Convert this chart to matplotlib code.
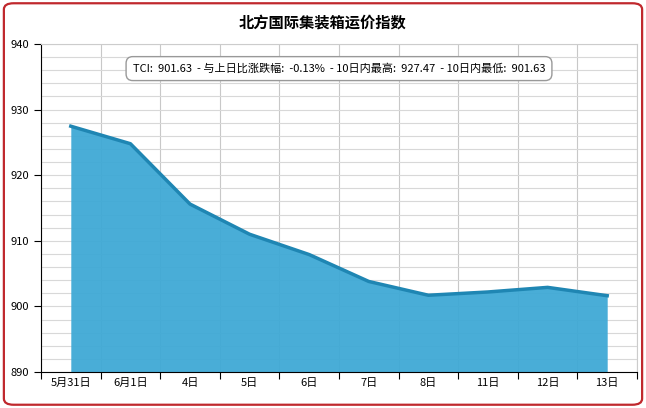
import numpy as np
import matplotlib.pyplot as plt
from matplotlib.patches import FancyBboxPatch

plt.rcParams['font.family'] = ['Noto Sans CJK SC', 'DejaVu Sans']

# 数据
labels = ['5月31日', '6月1日', '4日', '5日', '6日', '7日', '8日', '11日', '12日', '13日']
values = [927.47, 924.8, 915.6, 911.0, 907.9, 903.8, 901.7, 902.2, 902.9, 901.63]
info = 'TCI:  901.63  - 与上日比涨跌幅:  -0.13%  - 10日内最高:  927.47  - 10日内最低:  901.63'

fig = plt.figure(figsize=(6.46, 4.08), dpi=100)
border = FancyBboxPatch((0.006, 0.008), 0.988, 0.984, boxstyle='round,pad=0,rounding_size=0.015',
                        transform=fig.transFigure, fc='white', ec='#c0282d', lw=1.6, zorder=-5)
fig.patches.append(border)
ax = fig.add_axes([41/646, 36/408, 596/646, 328/408])

x = np.arange(len(values)) + 0.5
ax.fill_between(x, values, 890, color='#3fa9d5', alpha=0.95, lw=0, zorder=2)
ax.plot(x, values, color='#1f86b3', lw=2.5, zorder=3)

ax.set_xlim(0, len(values))
ax.set_ylim(890, 940)
ax.set_xticks(np.arange(len(values) + 1))
ax.set_xticklabels([])
ax.set_xticks(x, minor=True)
ax.set_xticklabels(labels, minor=True, fontsize=8)
ax.tick_params(axis='x', which='minor', length=0, pad=4)
ax.tick_params(axis='x', which='major', length=5, direction='out')
ax.set_yticks(np.arange(890, 941, 10))
ax.set_yticks(np.arange(890, 941, 2), minor=True)
ax.tick_params(axis='y', which='minor', length=0)
ax.tick_params(axis='y', which='major', labelsize=8, length=5)
ax.grid(axis='x', which='major', color='#c8c8c8', lw=0.8, zorder=1)
ax.grid(axis='y', which='both', color='#d8d8d8', lw=0.8, zorder=1)
ax.set_axisbelow(True)
for s in ['top', 'right']:
    ax.spines[s].set_color('#cccccc')
ax.spines['left'].set_color('black')
ax.spines['bottom'].set_color('black')

fig.text(0.5, 0.945, '北方国际集装箱运价指数', ha='center', va='center', fontsize=11, fontweight='bold')
ax.text(0.5, 0.925, info, transform=ax.transAxes, ha='center', va='center', fontsize=8,
        bbox=dict(boxstyle='round,pad=0.6', fc='white', ec='#999999', lw=1), zorder=5)

fig.savefig('out.png', dpi=100)
